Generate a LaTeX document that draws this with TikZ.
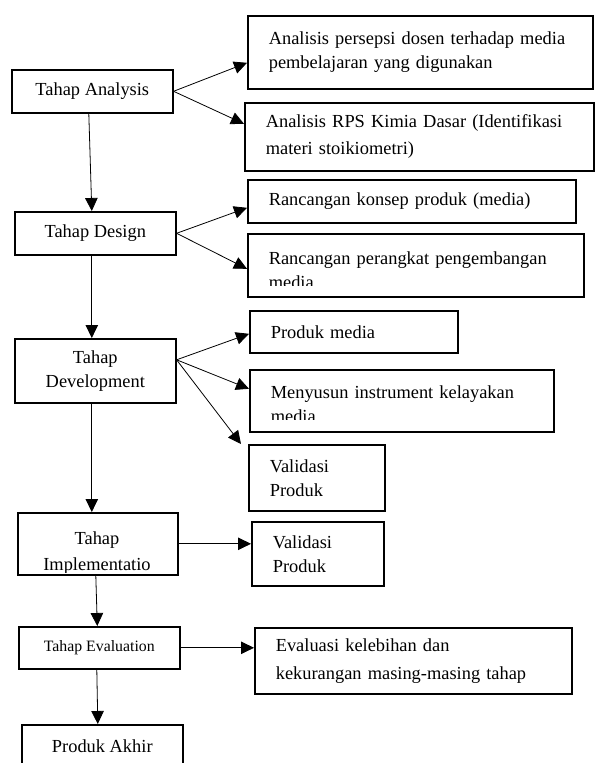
\documentclass[tikz,border=0pt]{standalone}
\usepackage{fontspec}
\setmainfont{Liberation Serif}
\usetikzlibrary{arrows.meta}
\newcommand{\teksbesar}{\fontsize{18.4}{24}\selectfont}
\newcommand{\tekskecil}{\fontsize{15.8}{20}\selectfont}
\tikzset{
  tahap/.style={draw, line width=1.6pt, anchor=north west, inner sep=0pt, align=center, font=\teksbesar},
  hasil/.style={draw, line width=1.6pt, anchor=north west, inner xsep=21pt, inner ysep=0pt, align=left, font=\teksbesar},
  panah/.style={line width=0.8pt, -{Triangle[length=13pt,width=12.5pt]}},
}
\begin{document}
\begin{tikzpicture}[x=1pt, y=-1pt]
  \useasboundingbox (0,0) rectangle (595,763);
  % tahap kiri
  \node [tahap, minimum width=161pt, minimum height=43pt] (ana) at (11,69) {Tahap Analysis};
  \node [tahap, minimum width=161pt, minimum height=43pt] (des) at (14,211) {Tahap Design};
  \node [tahap, minimum width=161pt, minimum height=64pt] (dev) at (14,338) {Tahap\\Development};
  \begin{scope}
    \clip (17,512) rectangle (177,572);
    \node [tahap, draw=none, anchor=north] (impteks) at (97,531) {Tahap\\[2pt]Implementatio};
  \end{scope}
  \node [tahap, minimum width=160pt, minimum height=62pt] (imp) at (17,512) {};
  \node [tahap, font=\tekskecil, minimum width=161pt, minimum height=42pt] (eva) at (18,626) {Tahap Evaluation};
  \node [tahap, minimum width=161pt, minimum height=43pt] (akh) at (21,724) {Produk Akhir};
  % hasil kanan
  \node [hasil, text width=303pt, minimum height=73pt] (r1) at (247,15) {Analisis persepsi dosen terhadap media\\pembelajaran yang digunakan};
  \node [hasil, text width=307pt, minimum height=68pt] (r2) at (244,102) {Analisis RPS Kimia Dasar (Identifikasi\\[3pt]materi stoikiometri)};
  \node [hasil, text width=286pt, minimum height=43pt] (r3) at (247,179) {Rancangan konsep produk (media)};
  \begin{scope}
    \clip (247,233) rectangle (583,285);
    \node [hasil, draw=none, text width=294pt, minimum height=63pt] (r4teks) at (247,238) {Rancangan perangkat pengembangan\\media};
  \end{scope}
  \node [hasil, text width=294pt, minimum height=63pt] (r4) at (247,233) {};
  \node [hasil, text width=166pt, minimum height=42pt] (r5) at (249,310) {Produk media};
  \begin{scope}
    \clip (249,369) rectangle (553,419);
    \node [hasil, draw=none, text width=262pt, minimum height=62pt] (r6teks) at (249,372) {Menyusun instrument kelayakan\\media};
  \end{scope}
  \node [hasil, text width=262pt, minimum height=62pt] (r6) at (249,369) {};
  \node [hasil, text width=94pt, minimum height=66pt] (r7) at (248,444) {Validasi\\Produk};
  \node [hasil, text width=90pt, minimum height=64pt] (r8) at (251,521) {Validasi\\Produk};
  \node [hasil, text width=275pt, minimum height=66pt] (r9) at (254,627) {Evaluasi kelebihan dan\\[4pt]kekurangan masing-masing tahap};
  % panah
  \draw [panah] (ana.east) -- ([yshift=-10.5pt]r1.west);
  \draw [panah] (ana.east) -- ([yshift=13pt]r2.west);
  \draw [panah] ([xshift=-3.5pt]ana.south) -- ([xshift=-3.5pt]des.north);
  \draw [panah] (des.east) -- ([yshift=-6.5pt]r3.west);
  \draw [panah] (des.east) -- ([yshift=-3.5pt]r4.west);
  \draw [panah] ([xshift=-3.5pt]des.south) -- ([xshift=-3.5pt]dev.north);
  \draw [panah] ([yshift=11pt]dev.east) -- ([yshift=-2pt]r5.west);
  \draw [panah] ([yshift=11pt]dev.east) -- ([yshift=12pt]r6.west);
  \draw [panah] ([yshift=11pt]dev.east) -- ([xshift=-7pt]r7.north west);
  \draw [panah] ([xshift=-3.5pt]dev.south) -- ([xshift=-6pt]imp.north);
  \draw [panah] (imp.east) -- (imp.east -| r8.west);
  \draw [panah] ([xshift=-2pt]imp.south) -- ([xshift=-2pt]eva.north);
  \draw [panah] (eva.east) -- (eva.east -| r9.west);
  \draw [panah] ([xshift=-2.5pt]eva.south) -- ([xshift=-4.5pt]akh.north);
\end{tikzpicture}
\end{document}
